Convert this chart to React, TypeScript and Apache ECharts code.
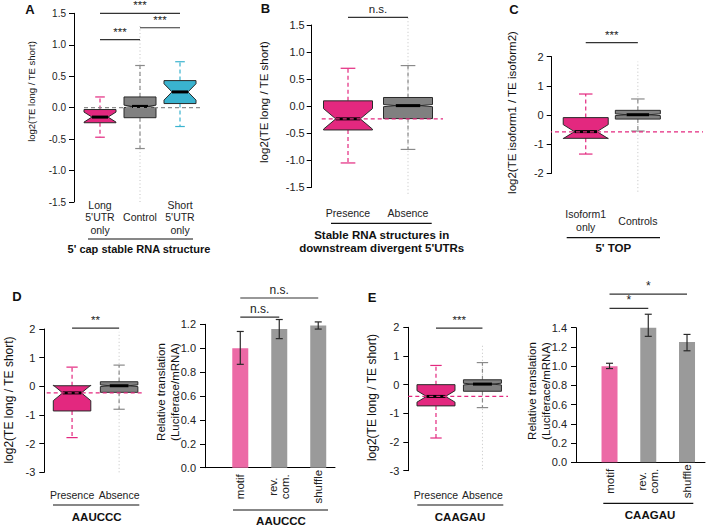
import React, { useEffect, useRef } from "react";
import * as echarts from "echarts";

const FONT = "'Liberation Sans', Arial, Helvetica, sans-serif";
const PINK = "#E3287F";
const BLUE = "#3AB3CF";
const GRAY = "#808080";
const WGRAY = "#8a8a8a";
const BAR_PINK = "#EC6AA6";
const BAR_GRAY = "#9a9a9a";

// ---------- Panel A ----------
const aCategories = ["Long\n5'UTR\nonly", "Control", "Short\n5'UTR\nonly"];
// [lower whisker, Q1, median, Q3, upper whisker]
const aStats = [
  [-0.47, -0.24, -0.15, -0.03, 0.17],
  [-0.65, -0.16, 0.02, 0.17, 0.67],
  [-0.3, 0.065, 0.25, 0.43, 0.73],
];
const aNotch = [0.08, 0.02, 0.13];
const aOutliers = [null, [-1.5, 1.3], null];
const aRef = 0;
const aSig = [
  [1, 3, 1.5, "***"],
  [2, 3, 1.27, "***"],
  [1, 2, 1.08, "***"],
];

// ---------- Panel B ----------
const bCategories = ["Presence", "Absence"];
const bStats = [
  [-1.05, -0.44, -0.235, 0.098, 0.7],
  [-0.8, -0.23, 0.01, 0.16, 0.75],
];
const bNotch = [0.19, 0.02];
const bOutliers = [null, [-1.62, 1.65]];
const bRef = -0.235;
const bSig = [[1, 2, 1.64, "n.s."]];

// ---------- Panel C ----------
const cCategories = ["Isoform1\nonly", "Controls"];
const cStats = [
  [-1.34, -0.8, -0.57, -0.09, 0.72],
  [-0.55, -0.14, 0.01, 0.16, 0.55],
];
const cNotch = [0.24, 0.03];
const cOutliers = [null, [-2.63, 1.83]];
const cRef = -0.58;
const cSig = [[1, 2, 2.48, "***"]];

// ---------- Panel D (box) ----------
const dCategories = ["Presence", "Absence"];
const dStats = [
  [-1.79, -0.86, -0.23, 0.02, 0.67],
  [-0.8, -0.21, 0.02, 0.16, 0.74],
];
const dNotch = [0.27, 0.03];
const dOutliers = [null, [-3.0, 1.9]];
const dRef = -0.23;
const dSig = [[1, 2, 2.03, "**"]];

// ---------- Panel D (bars) ----------
const dBarCategories = ["motif", "rev.\ncom.", "shuffle"];
const dBarValues = [1.0, 1.16, 1.19];
const dBarLow = [0.865, 1.08, 1.16];
const dBarHigh = [1.14, 1.24, 1.22];
const dBarSig = [
  [1, 2, 1.26, "n.s."],
  [1, 3, 1.42, "n.s."],
];

// ---------- Panel E (box) ----------
const eCategories = ["Presence", "Absence"];
const eStats = [
  [-1.86, -0.74, -0.41, 0.0, 0.67],
  [-0.8, -0.23, 0.02, 0.17, 0.77],
];
const eNotch = [0.2, 0.03];
const eOutliers = [null, [-2.95, 1.4]];
const eRef = -0.41;
const eSig = [[1, 2, 1.97, "***"]];

// ---------- Panel E (bars) ----------
const eBarCategories = ["motif", "rev.\ncom.", "shuffle"];
const eBarValues = [1.0, 1.43, 1.25];
const eBarLow = [0.975, 1.31, 1.16];
const eBarHigh = [1.03, 1.54, 1.33];
const eBarSig = [
  [1, 2, 1.6, "*"],
  [1, 3, 1.75, "*"],
];

// ---------- layout / style config ----------
const boxPanels = [
  {
    cats: aCategories, stats: aStats, notch: aNotch, out: aOutliers, ref: aRef, sig: aSig,
    colors: [PINK, GRAY, BLUE], whisk: [PINK, WGRAY, BLUE], refColor: "#8c8c8c",
    grid: { left: 74, top: 13.3, width: 128, height: 188.7 },
    yMin: -1.5, yMax: 1.5, yInt: 0.5, yDec: 1, xMin: 0.35, xMax: 3.55, refFrom: 0.6, refTo: 3.55,
    boxPx: 32, tickFont: 10, tickMargin: 8, catFont: 10.5, catMargin: 15, catLH: 12.5, sigFont: 11.5,
  },
  {
    cats: bCategories, stats: bStats, notch: bNotch, out: bOutliers, ref: bRef, sig: bSig,
    colors: [PINK, GRAY], whisk: [PINK, WGRAY], refColor: PINK,
    grid: { left: 311.7, top: 25, width: 131.3, height: 162.3 },
    yMin: -1.5, yMax: 1.5, yInt: 0.5, yDec: 1, xMin: 0.395, xMax: 2.583, refFrom: 0.562, refTo: 2.583,
    boxPx: 49, tickFont: 11, tickMargin: 7, catFont: 10.5, catMargin: 26, catLH: 12.5, sigFont: 11.5,
  },
  {
    cats: cCategories, stats: cStats, notch: cNotch, out: cOutliers, ref: cRef, sig: cSig,
    colors: [PINK, GRAY], whisk: [PINK, WGRAY], refColor: PINK,
    grid: { left: 551.7, top: 56.7, width: 151.3, height: 116.6 },
    yMin: -2, yMax: 2, yInt: 1, yDec: 0, xMin: 0.347, xMax: 3.25, refFrom: 0.276, refTo: 3.25,
    boxPx: 45, tickFont: 11, tickMargin: 8, catFont: 10.5, catMargin: 47.5, catLH: 13.4, sigFont: 11.5,
  },
  {
    cats: dCategories, stats: dStats, notch: dNotch, out: dOutliers, ref: dRef, sig: dSig,
    colors: [PINK, GRAY], whisk: [PINK, WGRAY], refColor: PINK,
    grid: { left: 44.3, top: 329, width: 97.4, height: 143.3 },
    yMin: -3, yMax: 2, yInt: 1, yDec: 0, xMin: 0.41, xMax: 2.48, refFrom: 0.461, refTo: 2.48,
    boxPx: 37.5, tickFont: 11, tickMargin: 9, catFont: 10.5, catMargin: 22.7, catLH: 12.5, sigFont: 11.5,
  },
  {
    cats: eCategories, stats: eStats, notch: eNotch, out: eOutliers, ref: eRef, sig: eSig,
    colors: [PINK, GRAY], whisk: [PINK, WGRAY], refColor: PINK,
    grid: { left: 408.3, top: 327.3, width: 99.7, height: 143.4 },
    yMin: -3, yMax: 2, yInt: 1, yDec: 0, xMin: 0.404, xMax: 2.55, refFrom: 0.404, refTo: 2.55,
    boxPx: 38, tickFont: 11, tickMargin: 9, catFont: 10.5, catMargin: 24, catLH: 12.5, sigFont: 11.5,
  },
];

const barPanels = [
  {
    cats: dBarCategories, values: dBarValues, low: dBarLow, high: dBarHigh, sig: dBarSig,
    grid: { left: 205, top: 324.3, width: 130, height: 143.4 },
    yMax: 1.2, xMin: 0.095, xMax: 3.43, tickFont: 11, tickMargin: 9, catFont: 11.5, catMargin: 19, sigFont: 12,
  },
  {
    cats: eBarCategories, values: eBarValues, low: eBarLow, high: eBarHigh, sig: eBarSig,
    grid: { left: 576, top: 327.7, width: 129, height: 134.6 },
    yMax: 1.4, xMin: 0.135, xMax: 3.464, tickFont: 11, tickMargin: 9, catFont: 11.5, catMargin: 19, sigFont: 12,
  },
];

function yAxisOf(gi: number, min: number, max: number, interval: number, dec: number, font: number, margin: number) {
  return {
    type: "value", gridIndex: gi, min, max, interval,
    axisLine: { show: true, lineStyle: { color: "#000", width: 1 } },
    axisTick: { show: true, length: 5, lineStyle: { color: "#000", width: 1 } },
    splitLine: { show: false },
    axisLabel: {
      fontSize: font, fontFamily: FONT, color: "#222", margin,
      formatter: (v: number) => (Math.abs(v) < 1e-9 ? 0 : v).toFixed(dec),
    },
  };
}

function sigSeries(gi: number, sig: any[], font: number) {
  return {
    type: "custom", xAxisIndex: gi, yAxisIndex: gi, clip: false, z: 6, silent: true,
    encode: { x: [0, 1], y: 2 },
    data: sig.map((s) => [s[0], s[1], s[2]]),
    renderItem: (params: any, api: any) => {
      const a = api.coord([api.value(0), api.value(2)]);
      const b = api.coord([api.value(1), api.value(2)]);
      return {
        type: "group",
        children: [
          { type: "line", shape: { x1: a[0], y1: a[1], x2: b[0], y2: b[1] }, style: { stroke: "#333", lineWidth: 1.2 } },
          {
            type: "text", x: (a[0] + b[0]) / 2, y: a[1] - 2,
            style: { text: sig[params.dataIndex][3], fontSize: font, fontFamily: FONT, fill: "#222", align: "center", verticalAlign: "bottom" },
          },
        ],
      };
    },
  };
}

function buildOption() {
  const grid: any[] = [];
  const xAxis: any[] = [];
  const yAxis: any[] = [];
  const series: any[] = [];
  let gi = 0;

  boxPanels.forEach((p) => {
    grid.push({ ...p.grid, containLabel: false });
    xAxis.push({
      type: "value", gridIndex: gi, min: p.xMin, max: p.xMax,
      axisLine: { show: false }, axisTick: { show: false }, splitLine: { show: false },
      axisLabel: {
        customValues: p.cats.map((_, i) => i + 1),
        formatter: (v: number) => p.cats[Math.round(v) - 1] || "",
        fontSize: p.catFont, fontFamily: FONT, color: "#222", margin: p.catMargin,
        verticalAlign: "middle", lineHeight: p.catLH, align: "center",
      },
    });
    yAxis.push(yAxisOf(gi, p.yMin, p.yMax, p.yInt, p.yDec, p.tickFont, p.tickMargin));

    const data = p.stats.map((s, i) => {
      const o = p.out[i];
      return [i + 1, s[0], s[1], s[2], s[3], s[4], p.notch[i], o ? o[0] : NaN, o ? o[1] : NaN];
    });
    series.push({
      type: "custom", xAxisIndex: gi, yAxisIndex: gi, clip: false, z: 2, silent: true,
      encode: { x: 0, y: [1, 2, 3, 4, 5] },
      data,
      renderItem: (params: any, api: any) => {
        const x = api.value(0);
        const lo = api.value(1), q1 = api.value(2), med = api.value(3), q3 = api.value(4), hi = api.value(5);
        const n = api.value(6), oLo = api.value(7), oHi = api.value(8);
        const cx = api.coord([x, med])[0];
        const Y = (v: number) => api.coord([x, v])[1];
        const h = p.boxPx / 2;
        const cap = p.boxPx * 0.15;
        const col = p.colors[params.dataIndex];
        const wcol = p.whisk[params.dataIndex];
        const children: any[] = [];
        if (!isNaN(oLo)) {
          children.push({ type: "line", shape: { x1: cx, y1: Y(oLo), x2: cx, y2: Y(oHi) }, style: { stroke: "#c2c2c2", lineWidth: 1, lineDash: [1, 2.5] } });
        }
        children.push({ type: "line", shape: { x1: cx, y1: Y(q3), x2: cx, y2: Y(hi) }, style: { stroke: wcol, lineWidth: 1.2, lineDash: [4, 3] } });
        children.push({ type: "line", shape: { x1: cx, y1: Y(q1), x2: cx, y2: Y(lo) }, style: { stroke: wcol, lineWidth: 1.2, lineDash: [4, 3] } });
        children.push({ type: "line", shape: { x1: cx - cap, y1: Y(hi), x2: cx + cap, y2: Y(hi) }, style: { stroke: wcol, lineWidth: 1.2 } });
        children.push({ type: "line", shape: { x1: cx - cap, y1: Y(lo), x2: cx + cap, y2: Y(lo) }, style: { stroke: wcol, lineWidth: 1.2 } });
        const pts = [
          [cx - h, Y(q1)], [cx - h, Y(med - n)], [cx - h / 2, Y(med)], [cx - h, Y(med + n)], [cx - h, Y(q3)],
          [cx + h, Y(q3)], [cx + h, Y(med + n)], [cx + h / 2, Y(med)], [cx + h, Y(med - n)], [cx + h, Y(q1)],
        ];
        children.push({ type: "polygon", shape: { points: pts }, style: { fill: col, stroke: "#2a2a2a", lineWidth: 1 } });
        children.push({ type: "line", shape: { x1: cx - h / 2, y1: Y(med), x2: cx + h / 2, y2: Y(med) }, style: { stroke: "#000", lineWidth: 3 } });
        return { type: "group", children };
      },
    });
    series.push({
      type: "line", xAxisIndex: gi, yAxisIndex: gi, z: 5, silent: true, showSymbol: false, symbol: "none",
      data: [[p.refFrom, p.ref], [p.refTo, p.ref]],
      lineStyle: { color: p.refColor, width: 1.2, type: [4, 3] },
    });
    series.push(sigSeries(gi, p.sig, p.sigFont));
    gi++;
  });

  barPanels.forEach((p) => {
    grid.push({ ...p.grid, containLabel: false });
    xAxis.push({
      type: "value", gridIndex: gi, min: p.xMin, max: p.xMax,
      axisLine: { show: true, onZero: false, lineStyle: { color: "#000", width: 1 } },
      axisTick: { show: false }, splitLine: { show: false },
      axisLabel: {
        customValues: p.cats.map((_, i) => i + 1),
        formatter: (v: number) => p.cats[Math.round(v) - 1] || "",
        fontSize: p.catFont, fontFamily: FONT, color: "#222", margin: p.catMargin,
        rotate: 90, align: "center", verticalAlign: "middle", lineHeight: 12,
      },
    });
    yAxis.push(yAxisOf(gi, 0, p.yMax, 0.2, 1, p.tickFont, p.tickMargin));
    series.push({
      type: "bar", xAxisIndex: gi, yAxisIndex: gi, barWidth: 16, z: 2, silent: true,
      data: p.values.map((v, i) => ({ value: [i + 1, v], itemStyle: { color: i === 0 ? BAR_PINK : BAR_GRAY } })),
    });
    series.push({
      type: "custom", xAxisIndex: gi, yAxisIndex: gi, clip: false, z: 4, silent: true,
      encode: { x: 0, y: [1, 2] },
      data: p.low.map((l, i) => [i + 1, l, p.high[i]]),
      renderItem: (params: any, api: any) => {
        const a = api.coord([api.value(0), api.value(1)]);
        const b = api.coord([api.value(0), api.value(2)]);
        const c = 3.5;
        const st = { stroke: "#2a2a2a", lineWidth: 1.2 };
        return {
          type: "group",
          children: [
            { type: "line", shape: { x1: a[0], y1: a[1], x2: b[0], y2: b[1] }, style: st },
            { type: "line", shape: { x1: a[0] - c, y1: a[1], x2: a[0] + c, y2: a[1] }, style: st },
            { type: "line", shape: { x1: b[0] - c, y1: b[1], x2: b[0] + c, y2: b[1] }, style: st },
          ],
        };
      },
    });
    series.push(sigSeries(gi, p.sig, p.sigFont));
    gi++;
  });

  const txt = (x: number, y: number, text: string, size: number, bold = false, rot = 0, lh?: number) => ({
    type: "text", x, y, rotation: rot, silent: true,
    style: {
      text, fontSize: size, fontFamily: FONT, fontWeight: bold ? "bold" : "normal", fill: "#111",
      align: "center", verticalAlign: "middle", lineHeight: lh || size * 1.2,
    },
  });
  const ln = (x1: number, y1: number, x2: number, y2: number) => ({
    type: "line", silent: true, shape: { x1, y1, x2, y2 }, style: { stroke: "#111", lineWidth: 1.2 },
  });
  const R = Math.PI / 2;

  const graphic = [
    txt(30, 9, "A", 13, true),
    txt(265.5, 8, "B", 13, true),
    txt(514, 9, "C", 13, true),
    txt(17, 296, "D", 13, true),
    txt(372, 297, "E", 13, true),
    txt(31, 91.5, "log2(TE long / TE short)", 9.5, false, R),
    txt(263.5, 102, "log2(TE long / TE short)", 11.5, false, R),
    txt(511.7, 112.5, "log2(TE isoform1 / TE isoform2)", 11.5, false, R),
    txt(8.5, 400, "log2(TE long / TE short)", 12, false, R),
    txt(372, 397.5, "log2(TE long / TE short)", 12, false, R),
    txt(168, 392, "Relative translation\n(Luciferace/mRNA)", 11.5, false, R, 14.3),
    txt(538.7, 391, "Relative translation\n(Luciferace/mRNA)", 11.5, false, R, 14),
    ln(88, 239, 193, 239),
    txt(139, 248.5, "5' cap stable RNA structure", 11, true),
    ln(331, 223.3, 431.7, 223.3),
    txt(381.7, 241.7, "Stable RNA structures in\ndownstream divergent 5'UTRs", 11.5, true, 0, 13.3),
    ln(566.7, 237.7, 660, 237.7),
    txt(613.3, 248.3, "5' TOP", 11.5, true),
    ln(53, 505, 139.3, 505),
    txt(96.7, 516.7, "AAUCCC", 11.5, true),
    ln(233, 510, 328, 510),
    txt(281, 521, "AAUCCC", 11.5, true),
    ln(417.3, 505, 503.3, 505),
    txt(460, 516.7, "CAAGAU", 11.5, true),
    ln(603.3, 503.3, 693.3, 503.3),
    txt(650, 515, "CAAGAU", 11.5, true),
  ];

  return {
    animation: false,
    backgroundColor: "#ffffff",
    textStyle: { fontFamily: FONT },
    grid, xAxis, yAxis, series, graphic,
  };
}

export default function App() {
  const ref = useRef<HTMLDivElement>(null);
  useEffect(() => {
    if (!ref.current) return;
    const chart = echarts.init(ref.current, undefined, { renderer: "svg" });
    chart.setOption(buildOption() as any);
    return () => chart.dispose();
  }, []);
  return (
    <div
      ref={ref}
      style={{ position: "absolute", left: 0, top: 0, width: 709, height: 529, background: "#fff" }}
    />
  );
}
